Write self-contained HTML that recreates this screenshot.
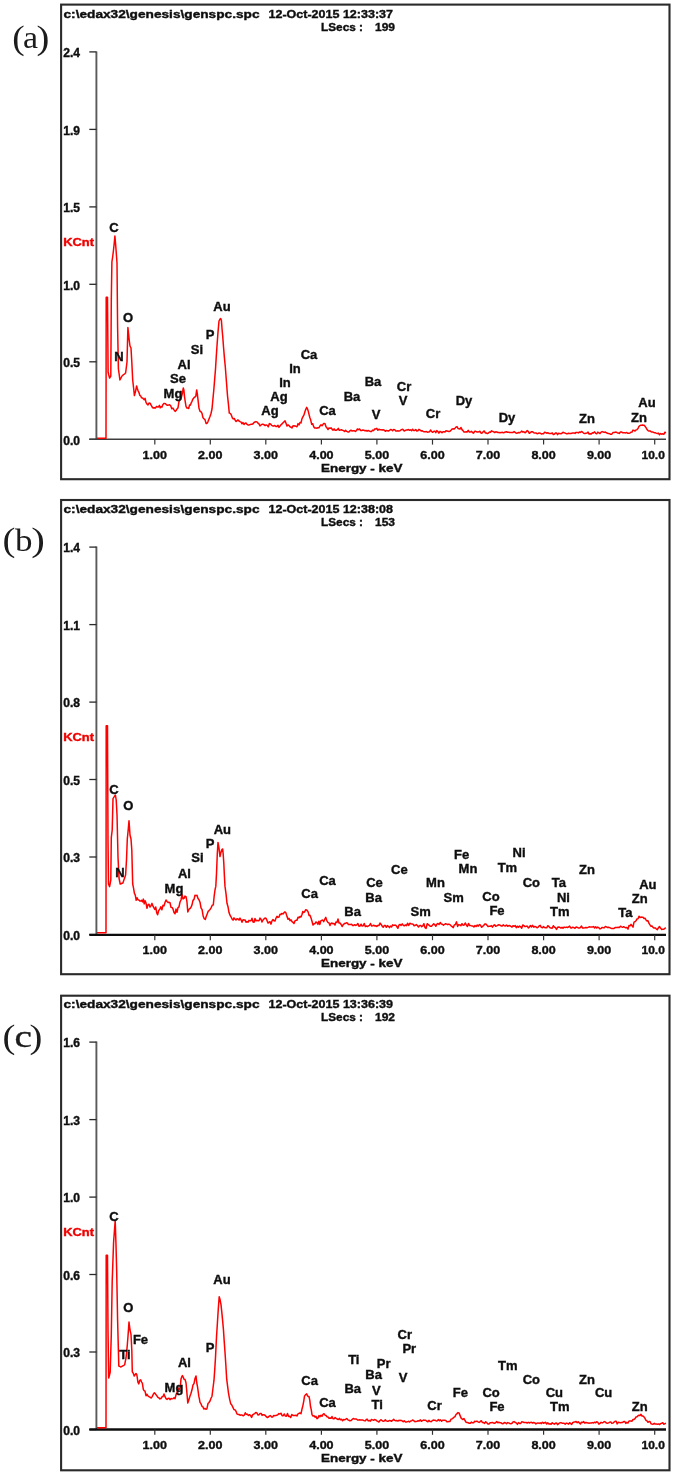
<!DOCTYPE html>
<html lang="en"><head><meta charset="utf-8"><title>EDX spectra</title>
<style>
html,body{margin:0;padding:0;background:#fff}
svg{display:block}
.t{font-family:"Liberation Sans",Arial,sans-serif;font-weight:bold;fill:#111;stroke:#111;stroke-width:.4px}
.s{font-family:"Liberation Serif","Times New Roman",serif;fill:#1a1a1a}
.e{font-size:13px;text-anchor:middle}
</style></head><body>
<svg width="675" height="1476" viewBox="0 0 675 1476">
<defs><filter id="soft" x="0" y="0" width="100%" height="100%" filterUnits="userSpaceOnUse" primitiveUnits="userSpaceOnUse"><feGaussianBlur stdDeviation="0.45"/></filter></defs>
<rect width="675" height="1476" fill="#fff"/>
<g filter="url(#soft)">
<g>
<rect x="61.1" y="4.6" width="608.4" height="474.6" fill="none" stroke="#2a2a2a" stroke-width="2.1"/>
<path d="M96.4 51.4V439.3" stroke="#5a5a5a" stroke-width="1.9" fill="none"/>
<path d="M89.3 51.9H96.5" stroke="#2a2a2a" stroke-width="1.3" fill="none"/>
<text class="t" x="63.2" y="57.2" font-size="12" textLength="16.8" lengthAdjust="spacingAndGlyphs">2.4</text>
<path d="M89.3 129.4H96.5" stroke="#2a2a2a" stroke-width="1.3" fill="none"/>
<text class="t" x="63.2" y="134.7" font-size="12" textLength="16.8" lengthAdjust="spacingAndGlyphs">1.9</text>
<path d="M89.3 206.9H96.5" stroke="#2a2a2a" stroke-width="1.3" fill="none"/>
<text class="t" x="63.2" y="212.2" font-size="12" textLength="16.8" lengthAdjust="spacingAndGlyphs">1.5</text>
<path d="M89.3 284.3H96.5" stroke="#2a2a2a" stroke-width="1.3" fill="none"/>
<text class="t" x="63.2" y="289.6" font-size="12" textLength="16.8" lengthAdjust="spacingAndGlyphs">1.0</text>
<path d="M89.3 361.8H96.5" stroke="#2a2a2a" stroke-width="1.3" fill="none"/>
<text class="t" x="63.2" y="367.1" font-size="12" textLength="16.8" lengthAdjust="spacingAndGlyphs">0.5</text>
<path d="M89.3 439.3H96.5" stroke="#2a2a2a" stroke-width="1.3" fill="none"/>
<text class="t" x="63.2" y="444.6" font-size="12" textLength="16.8" lengthAdjust="spacingAndGlyphs">0.0</text>
<path d="M89.3 439.3H666" stroke="#3c3c3c" stroke-width="1.5" fill="none"/>
<path d="M154.8 439.3v5.3" stroke="#333" stroke-width="1.2" fill="none"/>
<text class="t" x="142.6" y="458.6" font-size="11.6" textLength="24.4" lengthAdjust="spacingAndGlyphs">1.00</text>
<path d="M210.3 439.3v5.3" stroke="#333" stroke-width="1.2" fill="none"/>
<text class="t" x="198.1" y="458.6" font-size="11.6" textLength="24.4" lengthAdjust="spacingAndGlyphs">2.00</text>
<path d="M265.8 439.3v5.3" stroke="#333" stroke-width="1.2" fill="none"/>
<text class="t" x="253.6" y="458.6" font-size="11.6" textLength="24.4" lengthAdjust="spacingAndGlyphs">3.00</text>
<path d="M321.4 439.3v5.3" stroke="#333" stroke-width="1.2" fill="none"/>
<text class="t" x="309.2" y="458.6" font-size="11.6" textLength="24.4" lengthAdjust="spacingAndGlyphs">4.00</text>
<path d="M376.9 439.3v5.3" stroke="#333" stroke-width="1.2" fill="none"/>
<text class="t" x="364.8" y="458.6" font-size="11.6" textLength="24.4" lengthAdjust="spacingAndGlyphs">5.00</text>
<path d="M432.5 439.3v5.3" stroke="#333" stroke-width="1.2" fill="none"/>
<text class="t" x="420.3" y="458.6" font-size="11.6" textLength="24.4" lengthAdjust="spacingAndGlyphs">6.00</text>
<path d="M488.0 439.3v5.3" stroke="#333" stroke-width="1.2" fill="none"/>
<text class="t" x="475.8" y="458.6" font-size="11.6" textLength="24.4" lengthAdjust="spacingAndGlyphs">7.00</text>
<path d="M543.6 439.3v5.3" stroke="#333" stroke-width="1.2" fill="none"/>
<text class="t" x="531.4" y="458.6" font-size="11.6" textLength="24.4" lengthAdjust="spacingAndGlyphs">8.00</text>
<path d="M599.1 439.3v5.3" stroke="#333" stroke-width="1.2" fill="none"/>
<text class="t" x="586.9" y="458.6" font-size="11.6" textLength="24.4" lengthAdjust="spacingAndGlyphs">9.00</text>
<path d="M654.7 439.3v5.3" stroke="#333" stroke-width="1.2" fill="none"/>
<text class="t" x="641.5" y="458.6" font-size="11.6" textLength="23.4" lengthAdjust="spacingAndGlyphs">10.0</text>
<text class="t" x="321" y="472.0" font-size="11" textLength="81.5" lengthAdjust="spacingAndGlyphs">Energy - keV</text>
<text class="t" x="63.5" y="17.8" font-size="11.5" textLength="196" lengthAdjust="spacingAndGlyphs">c:\edax32\genesis\genspc.spc</text>
<text class="t" x="268.5" y="17.8" font-size="11.5" textLength="124.5" lengthAdjust="spacingAndGlyphs">12-Oct-2015 12:33:37</text>
<text class="t" x="321" y="31.2" font-size="11.5" textLength="42" lengthAdjust="spacingAndGlyphs">LSecs :</text>
<text class="t" x="375" y="31.2" font-size="11.5" textLength="20" lengthAdjust="spacingAndGlyphs">199</text>
<text class="t" x="63.2" y="246.0" font-size="11.5" textLength="30.8" lengthAdjust="spacingAndGlyphs" style="fill:#f00000;stroke:#f00000">KCnt</text>
<text class="s"><tspan x="12.30" y="48.60" font-size="34.0" textLength="12.42" lengthAdjust="spacingAndGlyphs">(</tspan><tspan x="23.00" y="48.10" font-size="30.6" textLength="15.10" lengthAdjust="spacingAndGlyphs">a</tspan><tspan x="36.60" y="48.60" font-size="34.0" textLength="12.90" lengthAdjust="spacingAndGlyphs">)</tspan></text>
<polyline points="97.0,438.3 98.0,438.3 99.0,438.3 100.0,438.3 101.0,438.3 102.0,438.3 103.0,438.3 104.0,438.3 105.0,438.3 106.0,438.3 106.2,297.3 106.8,297.3 107.5,297.3 108.1,372.0 108.8,375.0 109.6,378.0 110.2,377.0 110.8,376.0 111.3,300.0 111.9,262.0 112.7,256.5 113.4,251.0 114.2,243.5 114.9,236.0 115.6,244.0 116.2,252.0 117.0,263.0 117.6,327.0 118.4,369.0 119.2,374.5 119.9,380.0 121.0,378.0 122.0,376.0 122.9,375.2 123.8,374.5 124.7,373.8 125.6,373.0 126.3,367.5 127.0,362.0 127.9,327.6 128.6,333.8 129.2,340.0 130.0,346.0 131.0,348.0 131.8,362.0 132.7,380.0 133.6,388.0 134.4,395.6 135.5,391.6 136.6,385.9 137.3,388.5 138.0,390.6 138.9,392.3 139.8,395.3 140.7,396.0 141.6,397.8 142.4,397.9 143.3,398.8 144.2,399.8 145.1,398.3 146.0,402.3 146.9,403.9 148.0,405.0 149.0,403.1 150.1,403.2 151.1,405.2 152.2,407.1 153.3,408.1 154.4,407.7 155.4,408.1 156.5,406.4 157.6,406.9 158.5,407.0 159.4,405.3 160.2,407.9 161.1,406.8 162.0,407.1 162.9,404.6 163.8,403.5 164.6,403.6 165.5,403.8 166.4,404.8 167.5,405.3 168.6,405.0 169.6,404.7 170.7,405.8 171.8,408.7 172.9,408.1 174.0,409.9 175.1,411.4 176.2,410.4 177.1,408.8 178.0,407.9 178.9,401.8 179.8,400.0 180.7,399.1 181.5,396.9 182.4,393.3 183.3,388.0 183.9,390.3 184.5,396.5 185.2,401.4 186.0,406.4 186.9,408.1 187.8,408.1 188.7,408.5 189.5,405.1 190.3,405.3 191.2,402.9 192.0,401.3 193.0,398.9 194.0,397.7 195.0,396.9 195.8,396.2 196.7,389.9 197.3,393.6 198.0,399.6 199.0,408.3 200.0,411.3 201.0,411.7 202.0,413.4 203.0,417.8 204.0,418.8 205.0,419.6 206.0,423.4 207.0,423.4 208.0,421.6 209.0,419.0 210.0,416.5 211.0,413.5 212.0,409.0 212.9,399.4 213.8,390.0 214.7,378.9 215.5,369.1 216.2,357.7 217.0,345.8 218.0,332.1 219.0,321.0 220.0,319.1 220.7,318.5 221.4,320.4 222.1,329.7 222.7,336.1 223.6,348.0 224.4,357.6 225.3,366.8 226.4,381.2 227.5,395.6 228.4,403.8 229.3,413.1 230.3,413.4 231.3,414.9 232.3,417.8 233.3,418.9 234.2,418.5 235.2,420.2 236.1,421.5 237.1,420.6 238.0,419.9 239.0,421.0 240.0,421.6 241.0,422.0 242.0,423.8 243.0,422.6 244.0,424.5 245.0,423.2 246.0,423.1 247.0,424.3 248.0,425.0 249.0,425.0 250.0,424.6 251.0,424.3 252.0,424.2 253.0,423.8 254.0,422.5 255.0,422.0 256.0,421.6 257.0,421.9 258.0,423.2 259.0,423.9 260.0,425.9 261.0,425.0 262.0,424.3 263.0,424.3 264.0,424.7 265.1,425.6 266.2,424.9 267.2,425.4 268.3,426.8 269.4,423.6 270.5,424.0 271.6,425.3 272.7,425.9 273.8,426.0 274.8,425.5 275.9,426.4 277.0,426.4 278.0,425.4 279.0,427.4 280.0,426.1 281.0,424.8 282.0,423.9 283.0,422.8 284.0,421.9 285.0,420.8 286.0,423.2 287.0,426.0 288.0,424.9 289.0,425.6 290.0,426.8 291.0,427.2 292.0,428.0 293.0,425.7 294.0,425.9 295.0,425.8 296.0,426.4 297.0,426.8 298.0,423.6 299.0,424.9 300.0,422.5 301.0,422.9 302.0,418.6 303.0,416.7 304.0,414.9 304.9,411.7 305.8,409.3 306.7,407.4 307.5,409.1 308.2,410.9 309.0,414.3 309.9,417.8 310.7,420.1 311.7,424.3 312.7,423.7 313.7,426.7 314.7,428.0 315.8,427.9 316.8,428.2 317.9,427.8 318.9,427.8 320.0,425.9 321.0,424.8 322.0,425.8 323.0,424.3 324.0,423.4 325.0,423.8 326.0,426.8 327.0,427.9 328.0,429.5 329.0,427.9 330.0,428.3 331.0,427.8 332.0,429.1 333.0,430.1 334.1,428.9 335.1,430.2 336.2,430.3 337.2,429.7 338.3,428.4 339.3,430.3 340.4,430.0 341.4,429.7 342.5,430.3 343.5,430.6 344.6,431.5 345.6,430.2 346.7,431.4 347.8,431.9 348.8,432.0 349.9,430.9 351.0,430.2 352.1,431.1 353.1,430.8 354.2,430.7 355.3,431.5 356.4,430.6 357.4,429.0 358.5,429.7 359.6,429.0 360.7,430.5 361.7,430.6 362.8,430.0 363.9,430.2 365.0,430.8 366.0,430.5 367.1,431.2 368.2,430.5 369.3,431.0 370.3,431.4 371.4,431.6 372.5,430.1 373.6,430.7 374.6,429.0 375.7,429.0 376.8,428.4 377.9,430.3 378.9,429.3 380.0,429.8 381.1,429.8 382.1,430.0 383.2,429.7 384.2,430.1 385.3,431.3 386.3,430.5 387.4,430.7 388.4,431.0 389.5,430.3 390.5,429.5 391.6,429.7 392.6,430.8 393.7,429.4 394.7,429.7 395.8,430.9 396.8,431.1 397.9,430.7 398.9,431.1 400.0,430.8 401.1,429.8 402.1,429.3 403.2,429.8 404.2,431.0 405.3,430.4 406.3,430.0 407.4,430.0 408.4,429.5 409.5,430.3 410.5,429.8 411.6,430.8 412.6,429.2 413.7,430.6 414.7,430.4 415.8,429.5 416.8,431.0 417.9,430.8 418.9,429.4 420.0,430.0 421.1,430.9 422.1,430.7 423.2,431.5 424.2,431.7 425.3,431.8 426.3,431.6 427.4,432.2 428.4,432.0 429.5,431.8 430.5,430.0 431.6,431.5 432.6,432.3 433.7,431.4 434.7,431.1 435.8,432.6 436.8,430.6 437.9,431.5 438.9,433.1 440.0,431.4 441.0,431.9 442.0,432.8 443.0,431.7 444.0,431.8 445.0,432.0 446.0,430.8 447.0,431.0 448.0,431.2 449.0,431.6 450.0,431.2 451.0,430.3 452.0,429.1 453.0,428.8 454.0,429.1 455.0,428.2 456.0,427.1 457.0,426.6 458.0,428.5 459.0,428.8 460.0,429.1 461.0,427.5 462.0,429.6 463.0,430.6 464.0,432.1 465.0,432.1 466.1,431.7 467.1,432.0 468.2,430.4 469.3,432.0 470.4,432.0 471.4,431.3 472.5,432.5 473.6,433.2 474.6,431.3 475.7,431.3 476.8,431.9 477.9,432.1 478.9,431.7 480.0,431.3 481.1,433.2 482.1,433.1 483.2,431.6 484.2,431.0 485.3,432.9 486.3,433.0 487.4,433.6 488.4,433.1 489.5,431.9 490.5,432.2 491.6,430.8 492.6,431.3 493.7,431.9 494.7,432.5 495.8,431.8 496.8,432.0 497.9,432.5 498.9,432.6 500.0,432.8 501.1,432.6 502.2,432.2 503.3,432.8 504.3,432.5 505.4,431.9 506.5,431.8 507.6,432.2 508.7,432.3 509.8,432.5 510.9,432.4 512.0,432.5 513.0,432.4 514.1,431.6 515.2,432.5 516.3,433.2 517.4,433.0 518.5,432.5 519.6,432.8 520.7,432.0 521.7,431.1 522.8,432.1 523.9,431.8 525.0,432.8 526.1,431.9 527.2,430.6 528.3,431.3 529.3,433.3 530.4,432.6 531.5,431.7 532.6,431.8 533.7,432.7 534.8,433.0 535.9,432.9 537.0,433.7 538.0,433.5 539.1,432.9 540.2,433.2 541.3,434.0 542.4,433.7 543.5,433.7 544.6,432.3 545.7,432.5 546.7,433.2 547.8,432.7 548.9,433.5 550.0,433.4 551.1,433.6 552.2,432.9 553.3,434.5 554.3,434.2 555.4,433.1 556.5,433.0 557.6,434.6 558.7,433.2 559.8,433.6 560.9,433.7 562.0,433.2 563.0,432.2 564.1,432.8 565.2,433.1 566.3,433.7 567.4,433.7 568.5,433.2 569.6,433.6 570.7,433.5 571.7,433.3 572.8,433.1 573.9,432.9 575.0,433.4 576.1,432.4 577.2,432.4 578.3,432.9 579.3,432.0 580.4,432.4 581.5,431.5 582.6,432.2 583.7,433.2 584.8,433.5 585.9,433.2 587.0,433.0 588.0,432.1 589.1,434.0 590.2,433.7 591.3,434.0 592.4,432.8 593.5,432.9 594.6,431.9 595.7,433.3 596.7,433.8 597.8,432.1 598.9,432.8 600.0,433.5 601.1,432.1 602.1,431.6 603.2,432.0 604.3,432.4 605.4,432.0 606.4,432.8 607.5,433.2 608.6,433.6 609.6,433.7 610.7,434.3 611.8,434.2 612.9,432.6 613.9,432.6 615.0,432.2 616.1,432.1 617.1,432.7 618.2,433.0 619.3,433.4 620.4,432.1 621.4,431.9 622.5,432.7 623.6,432.8 624.6,432.8 625.7,432.9 626.8,432.5 627.9,433.3 628.9,433.3 630.0,433.0 631.0,432.2 632.0,432.1 633.0,430.1 634.0,430.4 635.0,431.0 636.0,429.9 637.0,429.6 638.0,428.5 639.0,426.3 640.0,425.6 640.8,425.2 641.7,425.3 642.5,425.1 643.3,425.3 644.2,425.3 645.0,426.2 646.0,427.6 647.0,429.5 648.0,430.6 649.0,431.1 650.0,430.9 651.0,431.7 652.0,432.0 653.0,432.1 654.1,432.7 655.2,432.7 656.2,433.1 657.3,433.5 658.4,433.1 659.5,434.8 660.6,433.6 661.7,434.2 662.8,433.8 663.8,434.3 664.9,432.2 666.0,432.7" fill="none" stroke="#ff0000" stroke-width="1.5" stroke-linejoin="round"/>
<text class="t e" x="114.0" y="232.4">C</text>
<text class="t e" x="128.0" y="322.4">O</text>
<text class="t e" x="119.0" y="361.4">N</text>
<text class="t e" x="173.0" y="398.4">Mg</text>
<text class="t e" x="178.0" y="383.4">Se</text>
<text class="t e" x="184.0" y="369.4">Al</text>
<text class="t e" x="197.0" y="354.4">Si</text>
<text class="t e" x="210.0" y="339.4">P</text>
<text class="t e" x="222.0" y="311.4">Au</text>
<text class="t e" x="270.0" y="414.9">Ag</text>
<text class="t e" x="279.0" y="400.9">Ag</text>
<text class="t e" x="285.0" y="387.4">In</text>
<text class="t e" x="295.0" y="372.9">In</text>
<text class="t e" x="309.0" y="358.9">Ca</text>
<text class="t e" x="327.5" y="414.9">Ca</text>
<text class="t e" x="352.0" y="401.4">Ba</text>
<text class="t e" x="373.0" y="386.4">Ba</text>
<text class="t e" x="376.0" y="418.9">V</text>
<text class="t e" x="404.0" y="391.4">Cr</text>
<text class="t e" x="403.0" y="404.9">V</text>
<text class="t e" x="433.0" y="417.9">Cr</text>
<text class="t e" x="464.0" y="404.9">Dy</text>
<text class="t e" x="507.0" y="421.9">Dy</text>
<text class="t e" x="587.0" y="422.9">Zn</text>
<text class="t e" x="647.0" y="406.9">Au</text>
<text class="t e" x="639.0" y="421.9">Zn</text>
</g>
<g>
<rect x="61.1" y="500.0" width="608.4" height="474.2" fill="none" stroke="#2a2a2a" stroke-width="2.1"/>
<path d="M96.4 546.6V934.9" stroke="#5a5a5a" stroke-width="1.9" fill="none"/>
<path d="M89.3 547.1H96.5" stroke="#2a2a2a" stroke-width="1.3" fill="none"/>
<text class="t" x="63.2" y="552.4" font-size="12" textLength="16.8" lengthAdjust="spacingAndGlyphs">1.4</text>
<path d="M89.3 624.6H96.5" stroke="#2a2a2a" stroke-width="1.3" fill="none"/>
<text class="t" x="63.2" y="629.9" font-size="12" textLength="16.8" lengthAdjust="spacingAndGlyphs">1.1</text>
<path d="M89.3 702.1H96.5" stroke="#2a2a2a" stroke-width="1.3" fill="none"/>
<text class="t" x="63.2" y="707.4" font-size="12" textLength="16.8" lengthAdjust="spacingAndGlyphs">0.8</text>
<path d="M89.3 779.5H96.5" stroke="#2a2a2a" stroke-width="1.3" fill="none"/>
<text class="t" x="63.2" y="784.8" font-size="12" textLength="16.8" lengthAdjust="spacingAndGlyphs">0.5</text>
<path d="M89.3 857.0H96.5" stroke="#2a2a2a" stroke-width="1.3" fill="none"/>
<text class="t" x="63.2" y="862.3" font-size="12" textLength="16.8" lengthAdjust="spacingAndGlyphs">0.3</text>
<path d="M89.3 934.5H96.5" stroke="#2a2a2a" stroke-width="1.3" fill="none"/>
<text class="t" x="63.2" y="939.8" font-size="12" textLength="16.8" lengthAdjust="spacingAndGlyphs">0.0</text>
<path d="M89.3 934.9H666" stroke="#0c0c0c" stroke-width="2.3" fill="none"/>
<path d="M154.8 934.9v5.3" stroke="#333" stroke-width="1.2" fill="none"/>
<text class="t" x="142.6" y="953.8" font-size="11.6" textLength="24.4" lengthAdjust="spacingAndGlyphs">1.00</text>
<path d="M210.3 934.9v5.3" stroke="#333" stroke-width="1.2" fill="none"/>
<text class="t" x="198.1" y="953.8" font-size="11.6" textLength="24.4" lengthAdjust="spacingAndGlyphs">2.00</text>
<path d="M265.8 934.9v5.3" stroke="#333" stroke-width="1.2" fill="none"/>
<text class="t" x="253.6" y="953.8" font-size="11.6" textLength="24.4" lengthAdjust="spacingAndGlyphs">3.00</text>
<path d="M321.4 934.9v5.3" stroke="#333" stroke-width="1.2" fill="none"/>
<text class="t" x="309.2" y="953.8" font-size="11.6" textLength="24.4" lengthAdjust="spacingAndGlyphs">4.00</text>
<path d="M376.9 934.9v5.3" stroke="#333" stroke-width="1.2" fill="none"/>
<text class="t" x="364.8" y="953.8" font-size="11.6" textLength="24.4" lengthAdjust="spacingAndGlyphs">5.00</text>
<path d="M432.5 934.9v5.3" stroke="#333" stroke-width="1.2" fill="none"/>
<text class="t" x="420.3" y="953.8" font-size="11.6" textLength="24.4" lengthAdjust="spacingAndGlyphs">6.00</text>
<path d="M488.0 934.9v5.3" stroke="#333" stroke-width="1.2" fill="none"/>
<text class="t" x="475.8" y="953.8" font-size="11.6" textLength="24.4" lengthAdjust="spacingAndGlyphs">7.00</text>
<path d="M543.6 934.9v5.3" stroke="#333" stroke-width="1.2" fill="none"/>
<text class="t" x="531.4" y="953.8" font-size="11.6" textLength="24.4" lengthAdjust="spacingAndGlyphs">8.00</text>
<path d="M599.1 934.9v5.3" stroke="#333" stroke-width="1.2" fill="none"/>
<text class="t" x="586.9" y="953.8" font-size="11.6" textLength="24.4" lengthAdjust="spacingAndGlyphs">9.00</text>
<path d="M654.7 934.9v5.3" stroke="#333" stroke-width="1.2" fill="none"/>
<text class="t" x="641.5" y="953.8" font-size="11.6" textLength="23.4" lengthAdjust="spacingAndGlyphs">10.0</text>
<text class="t" x="321" y="967.2" font-size="11" textLength="81.5" lengthAdjust="spacingAndGlyphs">Energy - keV</text>
<text class="t" x="63.5" y="513.0" font-size="11.5" textLength="196" lengthAdjust="spacingAndGlyphs">c:\edax32\genesis\genspc.spc</text>
<text class="t" x="268.5" y="513.0" font-size="11.5" textLength="124.5" lengthAdjust="spacingAndGlyphs">12-Oct-2015 12:38:08</text>
<text class="t" x="321" y="526.4" font-size="11.5" textLength="42" lengthAdjust="spacingAndGlyphs">LSecs :</text>
<text class="t" x="375" y="526.4" font-size="11.5" textLength="20" lengthAdjust="spacingAndGlyphs">153</text>
<text class="t" x="63.2" y="741.2" font-size="11.5" textLength="30.8" lengthAdjust="spacingAndGlyphs" style="fill:#f00000;stroke:#f00000">KCnt</text>
<text class="s"><tspan x="2.55" y="551.06" font-size="34.0" textLength="12.90" lengthAdjust="spacingAndGlyphs">(</tspan><tspan x="15.00" y="551.00" font-size="32.1" textLength="17.50" lengthAdjust="spacingAndGlyphs">b</tspan><tspan x="31.30" y="551.06" font-size="34.0" textLength="13.60" lengthAdjust="spacingAndGlyphs">)</tspan></text>
<polyline points="97.0,932.8 98.0,932.8 99.0,932.8 100.0,932.8 101.0,932.8 102.0,932.8 103.0,932.8 104.0,932.8 105.0,932.8 106.0,932.8 106.2,725.7 106.8,725.7 107.5,725.7 108.0,840.0 108.5,884.0 109.6,886.6 110.2,883.3 110.8,880.0 111.3,837.7 112.2,830.0 113.0,798.6 113.8,797.4 114.6,796.2 115.4,795.0 116.2,800.0 117.0,814.6 118.0,857.0 119.0,878.0 119.6,881.0 120.2,884.0 121.1,883.7 122.0,883.3 122.9,883.0 123.8,880.3 124.7,877.7 125.6,875.0 126.5,860.0 127.3,839.0 128.2,829.9 129.0,820.8 130.0,835.0 131.0,839.0 131.8,850.0 132.7,884.0 133.6,888.4 134.4,893.4 135.3,895.2 136.2,900.3 137.1,897.7 138.0,899.7 138.9,899.9 139.8,901.1 140.7,901.1 141.6,900.3 142.5,901.9 143.4,899.1 144.2,903.9 145.1,900.7 146.0,903.1 147.0,908.3 148.0,904.6 149.0,904.3 150.0,907.1 151.0,905.6 152.0,903.4 152.9,905.9 153.9,907.9 154.8,909.4 155.7,907.0 156.7,912.6 157.6,914.7 158.7,910.5 159.8,909.3 160.8,906.8 161.9,909.8 163.0,905.3 164.0,905.9 165.0,902.5 166.0,900.0 167.0,901.5 168.0,902.4 169.0,902.3 170.0,902.6 171.0,907.3 172.0,907.4 173.0,909.0 174.0,912.6 175.0,913.8 176.0,909.1 177.0,912.3 178.0,907.7 179.0,906.9 180.0,902.0 181.0,900.0 182.0,894.5 183.0,898.9 184.0,898.4 185.0,896.1 186.0,896.6 186.9,901.3 187.8,912.0 188.9,909.4 189.9,908.7 191.0,907.3 192.0,904.9 193.0,900.4 194.0,899.4 195.0,895.3 196.0,895.6 197.0,895.3 198.0,898.5 199.0,899.8 200.0,902.2 201.0,907.8 202.1,909.7 203.2,916.3 204.2,918.6 205.3,919.5 206.2,916.5 207.2,913.9 208.1,911.4 209.0,910.6 210.1,909.4 211.2,907.6 212.2,905.3 213.3,904.9 214.2,895.8 215.0,890.0 215.8,886.4 216.5,873.6 217.3,853.8 218.0,842.4 219.0,848.2 220.0,856.6 220.8,852.9 221.5,850.5 222.1,849.2 222.7,849.1 223.2,854.2 223.8,863.1 224.4,875.9 225.0,886.4 226.0,893.6 227.0,903.3 228.0,906.7 229.0,912.6 230.0,915.2 231.0,916.8 232.0,919.0 233.0,920.1 234.0,917.9 235.0,919.1 236.0,920.0 237.0,918.8 238.0,919.0 239.0,920.1 240.0,918.1 241.0,919.8 242.0,922.2 243.0,919.7 244.0,920.0 245.0,919.9 246.0,922.3 247.0,921.5 248.0,922.2 249.0,920.3 250.0,920.8 251.0,920.8 252.0,918.3 253.0,922.0 254.0,922.2 255.0,918.5 256.0,920.9 257.0,920.3 258.0,920.8 259.0,920.8 260.0,918.1 261.0,919.2 262.0,922.0 263.0,920.0 264.0,918.9 265.0,918.1 266.0,918.2 267.0,920.4 268.0,923.1 269.0,922.2 270.0,921.7 271.0,924.1 272.0,920.9 273.0,919.5 274.0,920.7 275.0,920.9 276.0,918.1 277.0,916.4 278.0,917.4 279.0,917.1 280.0,914.3 281.0,914.4 282.0,913.4 283.0,913.9 284.0,912.7 285.0,911.9 286.0,913.1 287.0,916.6 288.0,919.3 289.0,918.4 290.0,920.6 291.0,919.8 292.0,921.6 293.0,922.4 294.0,923.4 295.0,920.9 296.0,920.3 297.0,920.3 298.0,917.2 299.0,917.8 300.0,916.5 301.0,917.0 302.0,914.5 302.8,911.4 303.7,912.4 304.5,912.1 305.6,909.8 306.7,910.0 307.5,910.9 308.2,912.1 309.0,915.4 310.0,915.2 311.0,917.9 312.0,921.2 313.0,925.0 314.0,923.7 315.0,923.7 316.0,922.0 317.0,922.6 318.0,924.4 318.9,921.3 319.9,924.4 320.8,920.8 321.8,920.3 322.7,920.1 323.7,921.6 324.8,919.2 325.8,917.4 326.9,920.9 327.9,922.4 329.0,922.9 330.0,925.5 331.0,923.4 332.0,923.0 333.0,923.8 334.0,923.4 335.0,925.0 336.0,922.1 337.0,922.4 338.0,918.9 339.0,923.0 340.0,923.0 341.1,924.5 342.1,926.5 343.2,924.6 344.2,923.8 345.3,923.3 346.3,922.8 347.4,922.9 348.4,924.6 349.5,924.4 350.5,924.4 351.6,924.2 352.6,925.5 353.7,925.4 354.7,924.7 355.8,925.5 356.8,924.8 357.9,923.5 358.9,926.2 360.0,926.0 361.1,924.2 362.1,926.1 363.2,925.8 364.2,923.5 365.3,926.6 366.3,926.0 367.4,926.6 368.4,925.9 369.5,925.3 370.5,923.5 371.6,926.0 372.6,925.7 373.7,925.2 374.7,925.9 375.8,925.7 376.8,926.5 377.9,925.4 378.9,925.6 380.0,923.1 381.1,924.4 382.1,926.0 383.2,927.3 384.2,925.6 385.3,925.4 386.3,927.3 387.4,925.6 388.4,926.3 389.5,927.6 390.5,926.1 391.6,927.0 392.6,924.9 393.7,925.4 394.7,925.1 395.8,925.3 396.8,926.5 397.9,928.3 398.9,925.2 400.0,924.4 401.1,925.4 402.2,923.9 403.3,925.3 404.3,925.8 405.4,924.9 406.5,925.6 407.6,923.3 408.7,925.4 409.8,923.3 410.9,923.7 412.0,923.9 413.0,924.2 414.1,925.8 415.2,925.3 416.3,924.6 417.4,925.5 418.5,927.0 419.6,925.6 420.7,925.6 421.7,926.7 422.8,925.8 423.9,923.7 425.0,927.6 426.1,928.4 427.2,923.7 428.3,924.6 429.3,925.4 430.4,926.3 431.5,926.2 432.6,925.0 433.7,923.8 434.8,924.7 435.9,926.2 437.0,924.0 438.0,923.5 439.1,924.5 440.2,922.5 441.3,924.0 442.4,924.2 443.5,925.3 444.6,924.3 445.7,923.7 446.7,924.1 447.8,924.7 448.9,924.1 450.0,924.7 451.1,925.8 452.2,926.7 453.3,927.6 454.3,924.9 455.4,924.5 456.5,921.9 457.6,926.4 458.7,924.6 459.8,924.9 460.9,925.7 462.0,923.7 463.0,925.2 464.1,925.1 465.2,923.0 466.3,924.9 467.4,926.5 468.5,923.4 469.6,925.6 470.7,925.6 471.7,925.9 472.8,926.0 473.9,927.0 475.0,925.5 476.1,926.4 477.2,925.1 478.3,926.1 479.3,924.6 480.4,925.0 481.5,927.3 482.6,926.4 483.7,925.5 484.8,924.0 485.9,924.0 487.0,925.2 488.0,926.4 489.1,926.2 490.2,926.3 491.3,925.6 492.4,927.1 493.5,925.5 494.6,924.8 495.7,926.3 496.7,925.8 497.8,925.2 498.9,924.7 500.0,925.1 501.1,925.9 502.2,926.0 503.3,924.8 504.3,925.7 505.4,925.9 506.5,925.0 507.6,926.2 508.7,925.7 509.8,925.6 510.9,926.4 512.0,927.1 513.0,925.8 514.1,926.3 515.2,925.5 516.3,927.7 517.4,926.2 518.5,927.1 519.6,926.0 520.7,926.8 521.7,928.2 522.8,924.9 523.9,925.6 525.0,926.6 526.1,926.4 527.2,926.0 528.3,928.0 529.3,927.1 530.4,925.5 531.5,927.0 532.6,925.4 533.7,927.2 534.8,926.5 535.9,926.8 537.0,927.8 538.0,927.3 539.1,926.0 540.2,925.4 541.3,927.4 542.4,927.7 543.5,926.6 544.6,927.6 545.7,927.7 546.7,927.8 547.8,925.7 548.9,926.6 550.0,927.8 551.1,928.0 552.2,928.2 553.3,925.7 554.3,927.0 555.4,927.6 556.5,929.4 557.6,927.3 558.7,927.1 559.8,927.3 560.9,928.1 562.0,927.3 563.0,928.3 564.1,927.1 565.2,927.6 566.3,927.1 567.4,927.5 568.5,927.0 569.6,926.1 570.7,927.9 571.7,927.9 572.8,927.2 573.9,927.6 575.0,928.3 576.1,927.0 577.2,927.3 578.3,927.9 579.3,928.1 580.4,927.5 581.5,926.0 582.6,928.1 583.7,928.0 584.8,927.8 585.9,927.5 587.0,927.8 588.0,927.4 589.1,926.8 590.2,926.9 591.3,927.0 592.4,927.0 593.5,926.6 594.6,927.9 595.7,926.8 596.7,928.0 597.8,927.1 598.9,927.8 600.0,928.9 601.1,928.3 602.2,927.4 603.2,927.7 604.3,927.8 605.4,926.4 606.5,926.9 607.5,927.6 608.6,927.3 609.7,927.6 610.8,928.2 611.8,928.4 612.9,928.6 614.0,928.4 615.1,927.6 616.2,927.6 617.2,927.4 618.3,927.3 619.4,927.4 620.5,926.2 621.5,926.9 622.6,927.3 623.7,926.7 624.8,927.3 625.8,927.8 626.9,927.5 628.0,929.1 629.0,925.5 630.0,925.9 631.0,924.4 632.0,925.8 633.0,927.1 634.0,922.2 635.0,921.7 636.0,920.8 637.0,918.9 638.0,918.8 639.0,916.3 640.0,917.5 641.0,917.1 642.0,917.3 643.0,917.2 644.0,918.4 645.0,918.2 646.0,920.0 647.0,920.9 648.0,920.8 649.0,923.4 650.0,924.9 651.0,926.3 652.0,926.1 653.0,927.3 654.1,928.0 655.2,927.9 656.2,928.8 657.3,929.7 658.4,927.8 659.5,926.5 660.6,928.3 661.7,929.4 662.8,929.3 663.8,929.3 664.9,928.2 666.0,927.9" fill="none" stroke="#ff0000" stroke-width="1.5" stroke-linejoin="round"/>
<text class="t e" x="114.0" y="793.9">C</text>
<text class="t e" x="128.3" y="810.4">O</text>
<text class="t e" x="120.0" y="877.2">N</text>
<text class="t e" x="174.0" y="892.7">Mg</text>
<text class="t e" x="184.4" y="878.2">Al</text>
<text class="t e" x="197.5" y="862.4">Si</text>
<text class="t e" x="210.2" y="848.4">P</text>
<text class="t e" x="222.4" y="834.2">Au</text>
<text class="t e" x="327.5" y="884.6">Ca</text>
<text class="t e" x="309.6" y="898.0">Ca</text>
<text class="t e" x="352.6" y="916.0">Ba</text>
<text class="t e" x="399.4" y="873.6">Ce</text>
<text class="t e" x="374.5" y="887.1">Ce</text>
<text class="t e" x="373.6" y="901.6">Ba</text>
<text class="t e" x="435.5" y="887.1">Mn</text>
<text class="t e" x="453.6" y="901.6">Sm</text>
<text class="t e" x="420.6" y="916.1">Sm</text>
<text class="t e" x="461.7" y="858.6">Fe</text>
<text class="t e" x="468.0" y="873.1">Mn</text>
<text class="t e" x="491.0" y="900.6">Co</text>
<text class="t e" x="497.0" y="915.1">Fe</text>
<text class="t e" x="519.0" y="856.6">Ni</text>
<text class="t e" x="507.4" y="872.1">Tm</text>
<text class="t e" x="531.3" y="886.6">Co</text>
<text class="t e" x="558.9" y="886.6">Ta</text>
<text class="t e" x="563.4" y="901.6">Ni</text>
<text class="t e" x="559.8" y="916.1">Tm</text>
<text class="t e" x="586.9" y="873.6">Zn</text>
<text class="t e" x="647.9" y="888.6">Au</text>
<text class="t e" x="639.8" y="903.1">Zn</text>
<text class="t e" x="625.3" y="916.6">Ta</text>
</g>
<g>
<rect x="61.1" y="995.7" width="608.4" height="474.6" fill="none" stroke="#2a2a2a" stroke-width="2.1"/>
<path d="M96.4 1041.6V1429.5" stroke="#5a5a5a" stroke-width="1.9" fill="none"/>
<path d="M89.3 1042.1H96.5" stroke="#2a2a2a" stroke-width="1.3" fill="none"/>
<text class="t" x="63.2" y="1047.4" font-size="12" textLength="16.8" lengthAdjust="spacingAndGlyphs">1.6</text>
<path d="M89.3 1119.6H96.5" stroke="#2a2a2a" stroke-width="1.3" fill="none"/>
<text class="t" x="63.2" y="1124.9" font-size="12" textLength="16.8" lengthAdjust="spacingAndGlyphs">1.3</text>
<path d="M89.3 1197.1H96.5" stroke="#2a2a2a" stroke-width="1.3" fill="none"/>
<text class="t" x="63.2" y="1202.4" font-size="12" textLength="16.8" lengthAdjust="spacingAndGlyphs">1.0</text>
<path d="M89.3 1274.5H96.5" stroke="#2a2a2a" stroke-width="1.3" fill="none"/>
<text class="t" x="63.2" y="1279.8" font-size="12" textLength="16.8" lengthAdjust="spacingAndGlyphs">0.6</text>
<path d="M89.3 1352.0H96.5" stroke="#2a2a2a" stroke-width="1.3" fill="none"/>
<text class="t" x="63.2" y="1357.3" font-size="12" textLength="16.8" lengthAdjust="spacingAndGlyphs">0.3</text>
<path d="M89.3 1429.5H96.5" stroke="#2a2a2a" stroke-width="1.3" fill="none"/>
<text class="t" x="63.2" y="1434.8" font-size="12" textLength="16.8" lengthAdjust="spacingAndGlyphs">0.0</text>
<path d="M89.3 1429.5H666" stroke="#0c0c0c" stroke-width="2.3" fill="none"/>
<path d="M154.8 1429.5v5.3" stroke="#333" stroke-width="1.2" fill="none"/>
<text class="t" x="142.6" y="1448.8" font-size="11.6" textLength="24.4" lengthAdjust="spacingAndGlyphs">1.00</text>
<path d="M210.3 1429.5v5.3" stroke="#333" stroke-width="1.2" fill="none"/>
<text class="t" x="198.1" y="1448.8" font-size="11.6" textLength="24.4" lengthAdjust="spacingAndGlyphs">2.00</text>
<path d="M265.8 1429.5v5.3" stroke="#333" stroke-width="1.2" fill="none"/>
<text class="t" x="253.6" y="1448.8" font-size="11.6" textLength="24.4" lengthAdjust="spacingAndGlyphs">3.00</text>
<path d="M321.4 1429.5v5.3" stroke="#333" stroke-width="1.2" fill="none"/>
<text class="t" x="309.2" y="1448.8" font-size="11.6" textLength="24.4" lengthAdjust="spacingAndGlyphs">4.00</text>
<path d="M376.9 1429.5v5.3" stroke="#333" stroke-width="1.2" fill="none"/>
<text class="t" x="364.8" y="1448.8" font-size="11.6" textLength="24.4" lengthAdjust="spacingAndGlyphs">5.00</text>
<path d="M432.5 1429.5v5.3" stroke="#333" stroke-width="1.2" fill="none"/>
<text class="t" x="420.3" y="1448.8" font-size="11.6" textLength="24.4" lengthAdjust="spacingAndGlyphs">6.00</text>
<path d="M488.0 1429.5v5.3" stroke="#333" stroke-width="1.2" fill="none"/>
<text class="t" x="475.8" y="1448.8" font-size="11.6" textLength="24.4" lengthAdjust="spacingAndGlyphs">7.00</text>
<path d="M543.6 1429.5v5.3" stroke="#333" stroke-width="1.2" fill="none"/>
<text class="t" x="531.4" y="1448.8" font-size="11.6" textLength="24.4" lengthAdjust="spacingAndGlyphs">8.00</text>
<path d="M599.1 1429.5v5.3" stroke="#333" stroke-width="1.2" fill="none"/>
<text class="t" x="586.9" y="1448.8" font-size="11.6" textLength="24.4" lengthAdjust="spacingAndGlyphs">9.00</text>
<path d="M654.7 1429.5v5.3" stroke="#333" stroke-width="1.2" fill="none"/>
<text class="t" x="641.5" y="1448.8" font-size="11.6" textLength="23.4" lengthAdjust="spacingAndGlyphs">10.0</text>
<text class="t" x="321" y="1462.2" font-size="11" textLength="81.5" lengthAdjust="spacingAndGlyphs">Energy - keV</text>
<text class="t" x="63.5" y="1008.0" font-size="11.5" textLength="196" lengthAdjust="spacingAndGlyphs">c:\edax32\genesis\genspc.spc</text>
<text class="t" x="268.5" y="1008.0" font-size="11.5" textLength="124.5" lengthAdjust="spacingAndGlyphs">12-Oct-2015 13:36:39</text>
<text class="t" x="321" y="1021.4" font-size="11.5" textLength="42" lengthAdjust="spacingAndGlyphs">LSecs :</text>
<text class="t" x="375" y="1021.4" font-size="11.5" textLength="20" lengthAdjust="spacingAndGlyphs">192</text>
<text class="t" x="63.2" y="1236.2" font-size="11.5" textLength="30.8" lengthAdjust="spacingAndGlyphs" style="fill:#f00000;stroke:#f00000">KCnt</text>
<text class="s"><tspan x="2.55" y="1047.50" font-size="33.9" textLength="12.90" lengthAdjust="spacingAndGlyphs">(</tspan><tspan x="14.60" y="1047.10" font-size="32.6" textLength="17.40" lengthAdjust="spacingAndGlyphs" stroke="#1a1a1a" stroke-width="0.35">c</tspan><tspan x="29.50" y="1047.50" font-size="33.9" textLength="12.90" lengthAdjust="spacingAndGlyphs">)</tspan></text>
<polyline points="97.0,1427.8 98.0,1427.8 99.0,1427.8 100.0,1427.8 101.0,1427.8 102.0,1427.8 103.0,1427.8 104.0,1427.8 105.0,1427.8 106.0,1427.8 106.2,1255.3 106.8,1255.3 107.5,1255.3 108.0,1330.0 108.7,1378.0 109.5,1375.0 110.2,1372.0 111.3,1334.4 112.2,1281.0 112.9,1261.5 113.6,1242.0 114.4,1231.3 115.2,1220.7 116.0,1245.0 116.7,1272.0 117.6,1320.0 118.2,1343.0 118.8,1366.0 119.5,1366.3 120.3,1366.7 121.0,1367.0 121.9,1366.4 122.8,1365.8 123.8,1365.3 124.7,1364.7 125.3,1361.3 126.0,1358.0 126.7,1351.5 127.3,1345.0 128.2,1333.5 129.0,1322.0 130.0,1330.0 131.0,1334.4 131.8,1350.0 132.3,1371.8 133.2,1373.1 134.2,1376.0 135.1,1374.6 136.0,1373.5 136.9,1375.0 137.9,1382.2 138.8,1383.9 139.7,1380.5 140.7,1379.9 141.6,1382.0 142.4,1383.4 143.3,1389.4 144.2,1390.7 145.0,1391.2 146.0,1395.7 147.0,1394.3 148.0,1396.0 149.0,1396.7 150.0,1397.1 151.1,1398.0 152.2,1396.6 153.3,1394.2 154.4,1392.8 155.5,1394.1 156.6,1395.4 157.7,1397.1 158.8,1397.8 159.9,1398.9 161.0,1398.5 162.0,1396.8 163.0,1396.5 164.0,1394.0 165.0,1396.7 166.0,1398.7 167.0,1399.4 168.0,1398.5 169.0,1398.2 170.0,1399.7 171.0,1398.5 172.0,1398.9 173.0,1398.6 174.0,1397.7 175.0,1398.7 176.0,1394.7 176.9,1392.6 177.9,1390.1 178.8,1388.1 179.8,1389.5 180.4,1385.9 181.0,1378.9 181.7,1376.9 182.4,1375.6 183.2,1377.0 184.0,1379.2 185.0,1379.4 186.0,1382.8 186.9,1392.8 187.8,1403.1 188.9,1399.8 190.0,1396.0 191.0,1393.2 192.0,1389.8 193.0,1385.0 194.0,1383.6 195.0,1378.6 196.0,1375.9 196.8,1383.0 197.5,1386.6 198.2,1391.6 198.8,1396.2 199.4,1398.8 200.0,1402.4 200.9,1403.6 201.9,1406.2 202.9,1406.8 203.8,1409.0 204.9,1408.4 205.9,1409.3 206.9,1408.8 208.0,1403.5 209.0,1402.5 210.0,1401.0 211.0,1398.3 212.0,1396.2 213.0,1388.0 214.0,1380.2 214.8,1368.6 215.5,1357.4 216.5,1337.0 217.5,1321.5 218.3,1308.9 219.2,1296.8 220.1,1299.8 221.0,1304.6 221.8,1312.1 222.7,1321.4 223.5,1330.4 224.2,1341.1 225.0,1352.3 225.8,1364.3 226.7,1379.2 227.6,1386.2 228.5,1393.1 229.6,1399.1 230.7,1403.7 231.8,1405.0 232.8,1407.1 233.9,1409.5 235.0,1409.9 236.0,1411.3 237.0,1413.9 238.0,1414.4 239.0,1414.4 240.0,1415.2 241.1,1415.0 242.1,1415.0 243.2,1415.8 244.2,1415.2 245.3,1412.8 246.3,1414.4 247.4,1414.1 248.4,1415.5 249.5,1414.7 250.5,1415.3 251.6,1417.4 252.6,1414.9 253.7,1414.1 254.7,1413.6 255.8,1412.5 256.8,1412.7 257.9,1415.0 258.9,1414.7 260.0,1413.4 261.1,1413.4 262.1,1415.4 263.2,1414.7 264.2,1414.8 265.3,1415.5 266.3,1416.7 267.4,1417.6 268.4,1417.0 269.5,1415.9 270.5,1415.6 271.6,1417.1 272.6,1417.1 273.7,1415.4 274.7,1415.7 275.8,1415.5 276.8,1415.3 277.9,1414.6 278.9,1413.6 280.0,1414.0 281.1,1413.2 282.1,1415.7 283.2,1415.7 284.3,1414.0 285.4,1416.1 286.4,1416.2 287.5,1413.5 288.6,1416.4 289.6,1416.2 290.7,1417.4 291.8,1414.5 292.9,1415.4 293.9,1415.5 295.0,1415.4 296.0,1415.2 297.0,1416.0 298.0,1413.8 299.0,1413.3 300.0,1413.0 301.0,1413.7 302.0,1409.0 303.0,1405.1 303.8,1400.8 304.5,1396.1 305.6,1394.6 306.7,1393.9 307.5,1395.7 308.2,1396.5 309.0,1396.4 309.8,1400.3 310.5,1406.5 311.2,1409.4 312.0,1414.6 313.0,1416.1 314.0,1415.7 315.0,1417.2 316.0,1416.4 317.0,1418.7 318.0,1417.9 319.0,1415.6 320.0,1416.7 321.0,1415.2 322.0,1416.3 323.0,1414.3 324.0,1413.7 325.0,1415.1 326.0,1415.5 327.0,1416.8 328.0,1417.0 329.0,1418.2 330.0,1418.1 331.0,1418.3 332.0,1416.5 333.0,1418.7 334.1,1418.7 335.1,1417.5 336.2,1418.4 337.2,1419.0 338.3,1419.6 339.4,1418.4 340.4,1419.8 341.5,1419.2 342.6,1420.7 343.6,1419.5 344.7,1419.8 345.8,1419.2 346.8,1418.5 347.9,1419.9 348.9,1420.2 350.0,1420.7 351.1,1420.5 352.1,1419.5 353.2,1418.5 354.3,1418.9 355.4,1419.0 356.4,1419.0 357.5,1420.0 358.6,1420.1 359.6,1419.8 360.7,1420.0 361.8,1419.9 362.9,1420.1 363.9,1420.6 365.0,1420.9 366.1,1419.9 367.1,1419.1 368.2,1420.9 369.3,1420.5 370.4,1421.1 371.4,1419.5 372.5,1419.9 373.6,1420.3 374.6,1419.5 375.7,1419.9 376.8,1420.9 377.9,1421.4 378.9,1422.0 380.0,1420.5 381.1,1419.7 382.1,1420.7 383.2,1421.3 384.2,1421.0 385.3,1419.9 386.3,1420.9 387.4,1421.2 388.4,1421.2 389.5,1420.4 390.5,1420.7 391.6,1421.2 392.6,1420.4 393.7,1419.3 394.7,1420.4 395.8,1420.8 396.8,1420.6 397.9,1421.1 398.9,1420.3 400.0,1420.4 401.1,1420.3 402.1,1420.8 403.2,1421.7 404.3,1420.8 405.4,1422.0 406.4,1422.0 407.5,1421.6 408.6,1421.3 409.6,1422.0 410.7,1421.0 411.8,1420.7 412.9,1420.0 413.9,1420.8 415.0,1421.7 416.1,1421.4 417.1,1421.3 418.2,1420.8 419.3,1420.9 420.4,1419.9 421.4,1421.3 422.5,1420.7 423.6,1420.1 424.6,1420.2 425.7,1420.2 426.8,1421.3 427.9,1421.8 428.9,1420.3 430.0,1421.4 431.1,1421.7 432.1,1420.8 433.2,1420.0 434.2,1420.2 435.3,1420.3 436.3,1421.0 437.4,1420.8 438.4,1419.6 439.5,1420.7 440.5,1419.9 441.6,1421.3 442.6,1420.3 443.7,1420.3 444.7,1420.2 445.8,1420.4 446.8,1421.7 447.9,1421.8 448.9,1421.6 450.0,1421.4 451.0,1419.3 452.0,1418.9 453.0,1418.2 454.0,1417.2 455.0,1416.6 456.0,1414.5 457.0,1413.6 458.0,1412.6 459.0,1412.9 460.0,1415.4 461.0,1417.9 462.0,1418.9 463.0,1419.5 464.0,1418.5 465.0,1420.5 466.0,1422.2 467.0,1422.4 468.1,1422.8 469.2,1423.2 470.3,1423.2 471.4,1422.1 472.5,1422.8 473.6,1422.8 474.7,1421.3 475.8,1421.6 476.9,1421.1 478.0,1421.8 479.1,1422.4 480.2,1421.6 481.3,1420.7 482.4,1422.6 483.5,1422.6 484.6,1423.4 485.7,1421.7 486.8,1422.8 487.9,1423.9 489.0,1424.1 490.1,1422.7 491.2,1422.7 492.3,1422.4 493.4,1423.1 494.5,1423.3 495.6,1422.8 496.7,1421.6 497.8,1422.7 498.9,1422.2 500.0,1422.8 501.1,1422.8 502.2,1423.7 503.3,1423.6 504.3,1422.6 505.4,1422.8 506.5,1423.8 507.6,1422.6 508.7,1422.9 509.8,1423.5 510.9,1423.7 512.0,1423.3 513.0,1422.0 514.1,1421.6 515.2,1422.5 516.3,1422.9 517.4,1424.4 518.5,1422.6 519.6,1423.4 520.7,1423.4 521.7,1421.8 522.8,1421.9 523.9,1422.6 525.0,1422.4 526.1,1422.5 527.2,1423.0 528.3,1422.3 529.3,1423.0 530.4,1422.4 531.5,1422.3 532.6,1423.0 533.7,1422.5 534.8,1422.9 535.9,1424.0 537.0,1423.2 538.0,1422.9 539.1,1423.4 540.2,1422.8 541.3,1423.6 542.4,1422.3 543.5,1423.2 544.6,1422.7 545.7,1422.3 546.7,1424.0 547.8,1422.7 548.9,1424.1 550.0,1423.8 551.1,1424.2 552.2,1422.7 553.3,1423.7 554.3,1424.2 555.4,1423.3 556.5,1423.0 557.6,1424.6 558.7,1423.6 559.8,1422.9 560.9,1422.6 562.0,1423.2 563.0,1423.3 564.1,1423.2 565.2,1424.2 566.3,1423.1 567.4,1423.4 568.5,1424.1 569.6,1422.7 570.7,1423.6 571.7,1424.4 572.8,1422.5 573.9,1422.1 575.0,1422.0 576.1,1421.5 577.2,1422.8 578.3,1421.7 579.3,1422.9 580.4,1424.0 581.5,1422.2 582.6,1422.6 583.7,1421.6 584.8,1423.1 585.9,1422.5 587.0,1422.7 588.0,1422.9 589.1,1423.3 590.2,1422.9 591.3,1423.0 592.4,1422.6 593.5,1423.0 594.6,1422.2 595.7,1422.8 596.7,1421.7 597.8,1422.3 598.9,1424.1 600.0,1423.4 601.1,1422.3 602.2,1422.9 603.2,1422.3 604.3,1421.6 605.4,1422.0 606.5,1423.1 607.5,1423.2 608.6,1422.9 609.7,1422.2 610.8,1421.9 611.8,1423.4 612.9,1423.1 614.0,1422.2 615.1,1421.2 616.2,1421.3 617.2,1423.9 618.3,1422.3 619.4,1422.5 620.5,1422.7 621.5,1422.5 622.6,1422.4 623.7,1421.6 624.8,1421.6 625.8,1423.4 626.9,1422.3 628.0,1423.0 629.0,1421.0 630.0,1421.0 631.0,1421.0 632.0,1421.2 633.0,1419.5 634.0,1419.4 635.0,1418.6 636.0,1417.0 637.0,1416.7 638.0,1415.7 639.0,1415.3 640.0,1415.6 641.0,1414.3 642.0,1416.0 643.0,1416.1 644.0,1416.8 645.0,1418.3 646.0,1420.3 647.0,1420.8 648.0,1422.3 649.0,1421.5 650.0,1421.5 651.0,1423.7 652.0,1424.0 653.1,1424.3 654.2,1423.3 655.2,1424.1 656.3,1424.0 657.4,1424.2 658.5,1423.9 659.5,1424.6 660.6,1423.6 661.7,1423.2 662.8,1422.7 663.8,1424.3 664.9,1423.6 666.0,1423.2" fill="none" stroke="#ff0000" stroke-width="1.5" stroke-linejoin="round"/>
<text class="t e" x="114.0" y="1221.4">C</text>
<text class="t e" x="128.3" y="1312.4">O</text>
<text class="t e" x="140.5" y="1344.4">Fe</text>
<text class="t e" x="125.0" y="1358.7">Ti</text>
<text class="t e" x="174.0" y="1391.6">Mg</text>
<text class="t e" x="184.4" y="1366.9">Al</text>
<text class="t e" x="210.2" y="1351.6">P</text>
<text class="t e" x="222.0" y="1283.9">Au</text>
<text class="t e" x="309.6" y="1385.4">Ca</text>
<text class="t e" x="327.5" y="1407.0">Ca</text>
<text class="t e" x="353.8" y="1364.4">Ti</text>
<text class="t e" x="352.8" y="1393.2">Ba</text>
<text class="t e" x="404.8" y="1339.4">Cr</text>
<text class="t e" x="409.3" y="1352.9">Pr</text>
<text class="t e" x="383.6" y="1367.9">Pr</text>
<text class="t e" x="373.6" y="1378.9">Ba</text>
<text class="t e" x="403.0" y="1381.9">V</text>
<text class="t e" x="376.3" y="1395.4">V</text>
<text class="t e" x="377.2" y="1409.4">Ti</text>
<text class="t e" x="434.6" y="1410.4">Cr</text>
<text class="t e" x="460.4" y="1396.9">Fe</text>
<text class="t e" x="491.1" y="1397.4">Co</text>
<text class="t e" x="497.0" y="1411.4">Fe</text>
<text class="t e" x="507.8" y="1369.9">Tm</text>
<text class="t e" x="531.3" y="1383.9">Co</text>
<text class="t e" x="554.4" y="1397.4">Cu</text>
<text class="t e" x="559.8" y="1411.4">Tm</text>
<text class="t e" x="586.9" y="1383.9">Zn</text>
<text class="t e" x="603.6" y="1397.4">Cu</text>
<text class="t e" x="639.8" y="1411.4">Zn</text>
</g>
</g>
</svg>
</body></html>
